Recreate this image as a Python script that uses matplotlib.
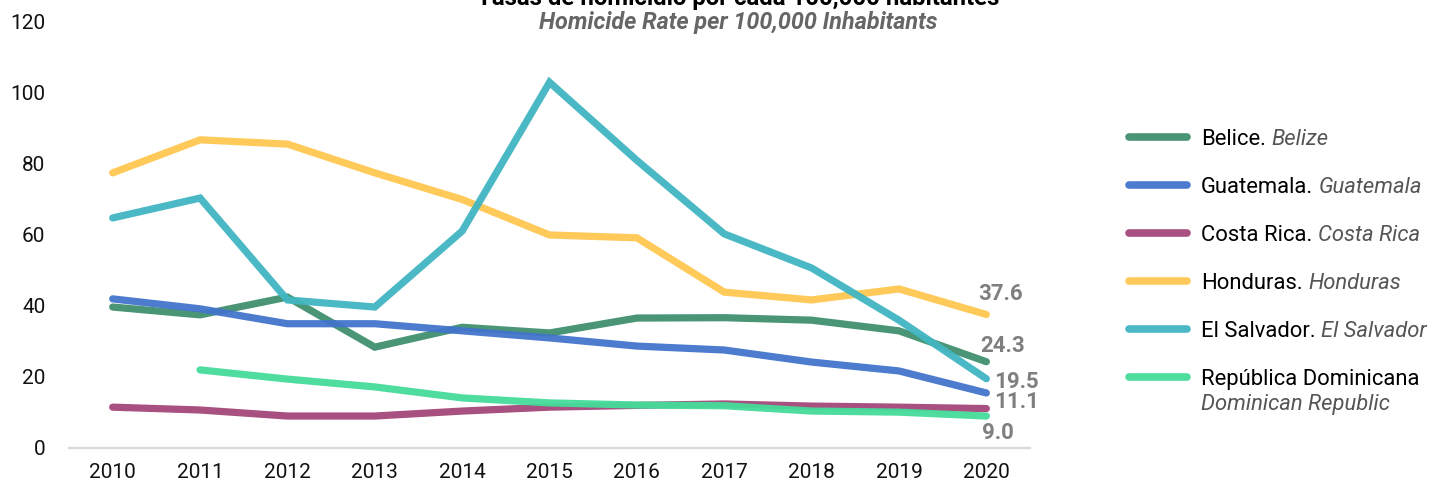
import numpy as np
import matplotlib
matplotlib.use("Agg")
import matplotlib.pyplot as plt

plt.rcParams['font.family'] = ['Roboto', 'DejaVu Sans']

years = list(range(2010, 2021))

belice = [39.7, 37.5, 42.5, 28.4, 34.0, 32.4, 36.6, 36.7, 36.0, 33.0, 24.3]
guatemala = [42.0, 39.2, 35.0, 35.0, 33.0, 31.0, 28.7, 27.6, 24.2, 21.7, 15.5]
costa_rica = [11.5, 10.7, 9.0, 9.0, 10.4, 11.5, 12.0, 12.4, 11.8, 11.5, 11.1]
honduras = [77.5, 86.8, 85.6, 77.5, 70.0, 60.0, 59.2, 43.9, 41.7, 44.8, 37.6]
el_salvador = [64.8, 70.4, 41.7, 39.7, 61.1, 103.0, 81.0, 60.3, 50.7, 36.0, 19.5]
rep_dom = [np.nan, 22.0, 19.4, 17.2, 14.1, 12.7, 12.1, 11.9, 10.4, 10.1, 9.0]

series = [
    ("Belice.", "Belize", belice, "#3f8f6e"),
    ("Guatemala.", "Guatemala", guatemala, "#4374cc"),
    ("Costa Rica.", "Costa Rica", costa_rica, "#a34679"),
    ("Honduras.", "Honduras", honduras, "#ffc850"),
    ("El Salvador.", "El Salvador", el_salvador, "#41b6c2"),
    ("República Dominicana", "Dominican Republic", rep_dom, "#44dc9a"),
]

# end labels: series index, text, offset in points
end_labels = [
    (3, "37.6", (10, 15)),
    (0, "24.3", (12, 11.5)),
    (4, "19.5", (22, -2)),
    (2, "11.1", (22, 5)),
    (5, "9.0", (8, -12)),
]

fig = plt.figure(figsize=(14.32, 4.88), dpi=100)
ax = fig.add_axes([0.0482, 0.082, 0.6711, 0.873])

for name, en, vals, col in series:
    ax.plot(years, vals, color=col, lw=5.2, solid_capstyle='round',
            solid_joinstyle='miter', alpha=0.95, label=name)

for idx, txt, off in end_labels:
    ax.annotate(txt, xy=(years[-1], series[idx][2][-1]), xytext=off,
                textcoords='offset points', ha='center', va='center',
                fontsize=16, fontweight='bold', color='#7f7f7f')

ax.set_xlim(2009.5, 2020.5)
ax.set_ylim(0, 120)
ax.set_xticks(years)
ax.set_yticks(range(0, 121, 20))
ax.tick_params(axis='both', length=0, labelsize=15, colors='#111111')
ax.tick_params(axis='y', pad=17)
ax.tick_params(axis='x', pad=11)
for s in ['top', 'right', 'left']:
    ax.spines[s].set_visible(False)
ax.spines['bottom'].set_color('#d9d9d9')
ax.spines['bottom'].set_linewidth(1.6)

leg = ax.legend(loc='upper left', bbox_to_anchor=(1.094, 0.77), frameon=False,
                fontsize=15.8, handlelength=2.64, handletextpad=0.64,
                labelspacing=1.23, borderaxespad=0)
for h in leg.get_lines():
    h.set_linewidth(5.5)
    h.set_solid_capstyle('round')

# fix the legend layout before hanging the English names on its texts
fig.canvas.draw()
for t, (name, en, vals, col) in zip(leg.get_texts(), series):
    if name.startswith("República"):
        ax.annotate(en, xy=(0, 0), xycoords=t, xytext=(0, -3),
                    textcoords='offset points', ha='left', va='top',
                    fontsize=15.8, fontstyle='italic', color='#555555')
    else:
        ax.annotate(en, xy=(1, 0), xycoords=t, xytext=(4, 0),
                    textcoords='offset points', ha='left', va='bottom',
                    fontsize=15.8, fontstyle='italic', color='#555555')

fig.text(0.5154, 1 - 5 / 488, "Tasas de homicidio por cada 100,000 habitantes",
         ha='center', va='baseline', fontsize=17.3, fontweight='bold', color='black')
fig.text(0.5154, 1 - 29 / 488, "Homicide Rate per 100,000 Inhabitants",
         ha='center', va='baseline', fontsize=16.8, fontweight='bold',
         fontstyle='italic', color='#666666')

fig.savefig("out.png", dpi=100)
